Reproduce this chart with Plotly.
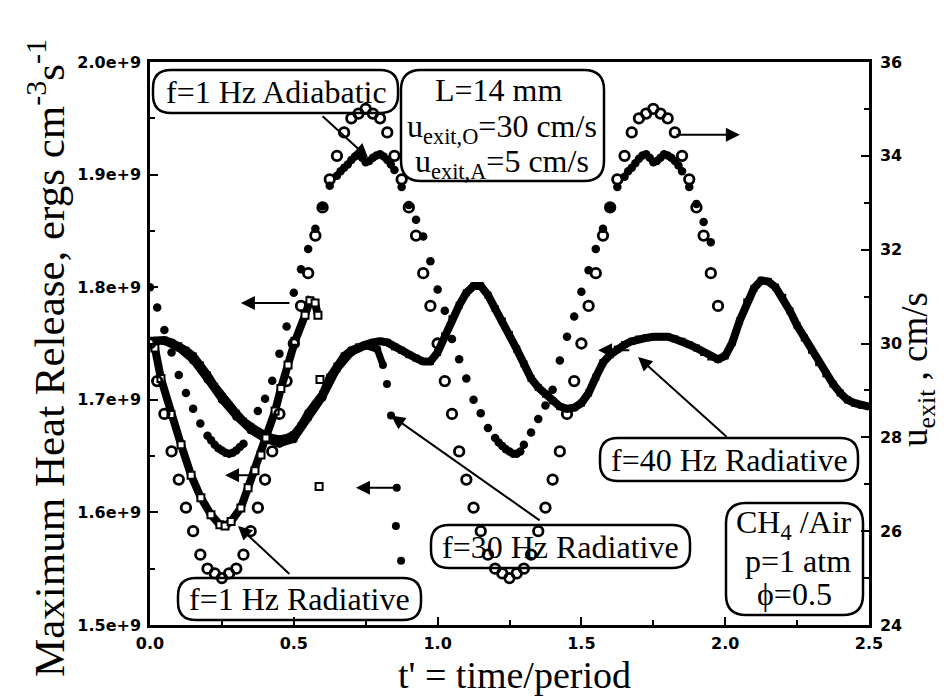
import plotly.graph_objects as go

# ---------------- data ----------------
# exit velocity (right axis, cm/s), open circles
t_u = [0.000, 0.025, 0.050, 0.075, 0.100, 0.125, 0.150, 0.175, 0.200, 0.225,
       0.250, 0.275, 0.300, 0.325, 0.350, 0.375, 0.400, 0.425, 0.450, 0.475,
       0.500, 0.525, 0.550, 0.575, 0.600, 0.625, 0.650, 0.675, 0.700, 0.725,
       0.750, 0.775, 0.800, 0.825, 0.850, 0.875, 0.900, 0.925, 0.950, 0.975,
       1.000, 1.025, 1.050, 1.075, 1.100, 1.125, 1.150, 1.175, 1.200, 1.225,
       1.250, 1.275, 1.300, 1.325, 1.350, 1.375, 1.400, 1.425, 1.450, 1.475,
       1.500, 1.525, 1.550, 1.575, 1.600, 1.625, 1.650, 1.675, 1.700, 1.725,
       1.750, 1.775, 1.800, 1.825, 1.850, 1.875, 1.900, 1.925, 1.950, 1.975]
u_exit = [30.0, 29.2, 28.5, 27.7, 27.1, 26.5, 26.0, 25.5, 25.2, 25.1,
          25.0, 25.1, 25.2, 25.5, 26.0, 26.5, 27.1, 27.7, 28.5, 29.2,
          30.0, 30.8, 31.5, 32.3, 32.9, 33.5, 34.0, 34.5, 34.8, 34.9,
          35.0, 34.9, 34.8, 34.5, 34.0, 33.5, 32.9, 32.3, 31.5, 30.8,
          30.0, 29.2, 28.5, 27.7, 27.1, 26.5, 26.0, 25.5, 25.2, 25.1,
          25.0, 25.1, 25.2, 25.5, 26.0, 26.5, 27.1, 27.7, 28.5, 29.2,
          30.0, 30.8, 31.5, 32.3, 32.9, 33.5, 34.0, 34.5, 34.8, 34.9,
          35.0, 34.9, 34.8, 34.5, 34.0, 33.5, 32.9, 32.3, 31.5, 30.8]

# f = 1 Hz adiabatic, max heat release (1e9 ergs/cm3/s), filled circles
t_ad = [0.000, 0.025, 0.050, 0.075, 0.100, 0.125, 0.150, 0.175, 0.200, 0.2125,
        0.225, 0.2375, 0.250, 0.2625, 0.275, 0.2875, 0.300, 0.3125, 0.325, 0.350,
        0.375, 0.400, 0.425, 0.450, 0.475, 0.500, 0.525, 0.550, 0.575, 0.600,
        0.625, 0.650, 0.6625, 0.675, 0.6875, 0.700, 0.7125, 0.725, 0.7375, 0.750,
        0.7625, 0.775, 0.7875, 0.800, 0.8125, 0.825, 0.8375, 0.850, 0.875, 0.900,
        0.925, 0.950, 0.975,
        1.000, 1.025, 1.050, 1.075, 1.100, 1.125, 1.150, 1.175, 1.200, 1.2125,
        1.225, 1.2375, 1.250, 1.2625, 1.275, 1.2875, 1.300, 1.325, 1.350, 1.375,
        1.400, 1.425, 1.450, 1.475, 1.500, 1.525, 1.550, 1.575, 1.600, 1.625,
        1.650, 1.6625, 1.675, 1.6875, 1.700, 1.7125, 1.725, 1.7375, 1.750, 1.7625,
        1.775, 1.7875, 1.800, 1.8125, 1.825, 1.8375, 1.850, 1.875, 1.900, 1.925,
        1.950]
q_ad = [1.800, 1.782, 1.762, 1.742, 1.722, 1.706, 1.692, 1.679, 1.668, 1.664,
        1.660, 1.657, 1.655, 1.653, 1.652, 1.653, 1.655, 1.658, 1.661, 1.675,
        1.690, 1.701, 1.717, 1.741, 1.765, 1.795, 1.816, 1.834, 1.852, 1.872,
        1.890, 1.899, 1.903, 1.906, 1.909, 1.913, 1.916, 1.918, 1.915, 1.911,
        1.912, 1.915, 1.917, 1.918, 1.916, 1.913, 1.909, 1.904, 1.889, 1.873,
        1.860, 1.845, 1.823,
        1.798, 1.779, 1.754, 1.736, 1.719, 1.700, 1.688, 1.675, 1.666, 1.662,
        1.659, 1.656, 1.654, 1.652, 1.652, 1.654, 1.660, 1.671, 1.683, 1.695,
        1.709, 1.735, 1.756, 1.774, 1.796, 1.815, 1.834, 1.852, 1.871, 1.889,
        1.898, 1.903, 1.906, 1.910, 1.914, 1.917, 1.918, 1.915, 1.911, 1.912,
        1.915, 1.918, 1.917, 1.915, 1.912, 1.908, 1.903, 1.889, 1.874, 1.858,
        1.840]

# f = 1 Hz radiative, open squares (extinguishes near t' = 0.59)
t_r1 = [0.000, 0.017, 0.038, 0.073, 0.108, 0.143, 0.177, 0.212, 0.243, 0.261,
        0.282, 0.316, 0.341, 0.365, 0.386, 0.403, 0.435, 0.455, 0.480, 0.504,
        0.539, 0.556, 0.574, 0.584, 0.591, 0.588]
q_r1 = [1.752, 1.746, 1.719, 1.687, 1.660, 1.633, 1.613, 1.598, 1.589, 1.588,
        1.592, 1.604, 1.622, 1.637, 1.651, 1.666, 1.690, 1.710, 1.731, 1.752,
        1.775, 1.788, 1.786, 1.775, 1.718, 1.623]
n_r1_line = 24

# f = 30 Hz radiative, filled circles (extinguishes near t' = 0.87)
t_r30 = [0.000, 0.050, 0.100, 0.150, 0.200, 0.250, 0.300, 0.350, 0.400, 0.450,
         0.500, 0.550, 0.600, 0.650, 0.700, 0.750, 0.790, 0.810, 0.824, 0.838,
         0.858, 0.855, 0.873]
q_r30 = [1.752, 1.752, 1.746, 1.735, 1.718, 1.700, 1.685, 1.673, 1.665, 1.661,
         1.665, 1.684, 1.702, 1.727, 1.742, 1.748, 1.745, 1.731, 1.714, 1.686,
         1.622, 1.588, 1.557]
n_r30_line = 18

# f = 40 Hz radiative, filled squares
t_r40 = [0.000, 0.025, 0.050, 0.075, 0.100, 0.125, 0.150, 0.175, 0.200, 0.225,
         0.250, 0.275, 0.300, 0.325, 0.350, 0.375, 0.400, 0.425, 0.450, 0.475,
         0.500, 0.525, 0.550, 0.575, 0.600, 0.625, 0.650, 0.675, 0.700, 0.725,
         0.750, 0.775, 0.800, 0.825, 0.850, 0.875, 0.900, 0.925, 0.950, 0.975,
         1.000, 1.025, 1.050, 1.075, 1.100, 1.125, 1.150, 1.175, 1.200, 1.225,
         1.250, 1.275, 1.300, 1.325, 1.350, 1.375, 1.400, 1.425, 1.450, 1.475,
         1.500, 1.525, 1.550, 1.575, 1.600, 1.625, 1.650, 1.675, 1.700, 1.725,
         1.750, 1.775, 1.800, 1.825, 1.850, 1.875, 1.900, 1.925, 1.950, 1.975,
         2.000, 2.025, 2.050, 2.075, 2.100, 2.125, 2.150, 2.175, 2.200, 2.225,
         2.250, 2.275, 2.300, 2.325, 2.350, 2.375, 2.400, 2.425, 2.450, 2.475,
         2.500]
q_r40 = [1.752, 1.753, 1.753, 1.751, 1.748, 1.744, 1.739, 1.731, 1.722, 1.712,
         1.703, 1.695, 1.688, 1.681, 1.676, 1.672, 1.669, 1.666, 1.665, 1.666,
         1.669, 1.677, 1.688, 1.696, 1.705, 1.720, 1.730, 1.739, 1.744, 1.747,
         1.749, 1.751, 1.752, 1.751, 1.747, 1.744, 1.740, 1.737, 1.734, 1.734,
         1.742, 1.757, 1.772, 1.784, 1.795, 1.801, 1.801, 1.793, 1.781, 1.770,
         1.758, 1.745, 1.732, 1.719, 1.711, 1.705, 1.699, 1.694, 1.692, 1.693,
         1.697, 1.706, 1.720, 1.733, 1.740, 1.745, 1.749, 1.752, 1.754, 1.755,
         1.756, 1.756, 1.756, 1.754, 1.752, 1.749, 1.746, 1.742, 1.738, 1.736,
         1.739, 1.751, 1.770, 1.787, 1.799, 1.806, 1.805, 1.800, 1.791, 1.779,
         1.766, 1.755, 1.744, 1.733, 1.723, 1.714, 1.706, 1.700, 1.697, 1.695,
         1.694]

# axis ticks
x_tickvals = [0.0, 0.5, 1.0, 1.5, 2.0, 2.5]
x_ticktext = ["0.0", "0.5", "1.0", "1.5", "2.0", "2.5"]
y_tickvals = [1.5, 1.6, 1.7, 1.8, 1.9, 2.0]
y_ticktext = ["1.5e+9", "1.6e+9", "1.7e+9", "1.8e+9", "1.9e+9", "2.0e+9"]
y2_tickvals = [24, 26, 28, 30, 32, 34, 36]
y2_ticktext = ["24", "26", "28", "30", "32", "34", "36"]

# ---------------- figure ----------------
W, H = 946, 697
L, R, T, B = 142, 861, 54, 617

SERIF = "Liberation Serif, Times New Roman, serif"

fig = go.Figure()

# 40 Hz radiative: dense filled squares -> thick black band
fig.add_trace(go.Scatter(x=t_r40, y=q_r40, mode="lines+markers",
                         line=dict(color="black", width=8),
                         marker=dict(symbol="square", size=7, color="black"),
                         hoverinfo="skip", showlegend=False))
# 30 Hz radiative
fig.add_trace(go.Scatter(x=t_r30[:n_r30_line], y=q_r30[:n_r30_line], mode="lines",
                         line=dict(color="black", width=7),
                         hoverinfo="skip", showlegend=False))
fig.add_trace(go.Scatter(x=t_r30, y=q_r30, mode="markers",
                         marker=dict(symbol="circle", size=8, color="black"),
                         hoverinfo="skip", showlegend=False))
# 1 Hz radiative: dense open squares -> black band with white centres
fig.add_trace(go.Scatter(x=t_r1[:n_r1_line], y=q_r1[:n_r1_line], mode="lines",
                         line=dict(color="black", width=8),
                         hoverinfo="skip", showlegend=False))
fig.add_trace(go.Scatter(x=t_r1, y=q_r1, mode="markers",
                         marker=dict(symbol="square", size=7, color="white",
                                     line=dict(color="black", width=2)),
                         hoverinfo="skip", showlegend=False))
# 1 Hz adiabatic: filled circles
fig.add_trace(go.Scatter(x=t_ad, y=q_ad, mode="markers",
                         marker=dict(symbol="circle", size=8.5, color="black"),
                         hoverinfo="skip", showlegend=False))
# exit velocity: open circles on right axis
fig.add_trace(go.Scatter(x=t_u, y=u_exit, mode="markers", yaxis="y2",
                         marker=dict(symbol="circle-open", size=9.5, color="black",
                                     line=dict(color="black", width=2.8)),
                         hoverinfo="skip", showlegend=False))

tickfont = dict(family="DejaVu Sans", size=16, color="black", weight="bold")
axis_common = dict(showline=True, linecolor="black", linewidth=2.5,
                   ticks="inside", ticklen=8, tickwidth=2, tickcolor="black",
                   showgrid=False, zeroline=False, tickfont=tickfont)


def bold(labels):
    return ["<b>" + s + "</b>" for s in labels]


fig.update_layout(
    width=W, height=H,
    margin=dict(l=L, r=W - R, t=T, b=H - B, pad=0),
    paper_bgcolor="white", plot_bgcolor="white",
    xaxis=dict(range=[0, 2.5], tickvals=x_tickvals, ticktext=bold(x_ticktext),
               mirror=True, ticklabelstandoff=2,
               minor=dict(ticks="inside", ticklen=5, tickwidth=2,
                          tickvals=[0.25, 0.75, 1.25, 1.75, 2.25]),
               **axis_common),
    yaxis=dict(range=[1.5, 2.0], tickvals=y_tickvals, ticktext=bold(y_ticktext),
               ticklabelstandoff=3,
               minor=dict(ticks="inside", ticklen=5, tickwidth=2,
                          tickvals=[1.55, 1.65, 1.75, 1.85, 1.95]),
               **axis_common),
    yaxis2=dict(range=[24, 36], tickvals=y2_tickvals, ticktext=bold(y2_ticktext),
                overlaying="y", side="right", ticklabelstandoff=5,
                minor=dict(ticks="inside", ticklen=5, tickwidth=2,
                           tickvals=[25, 27, 29, 31, 33, 35]),
                **axis_common),
)


def PX(x):
    return (x - L) / (R - L)


def PY(y):
    return (B - y) / (B - T)


def rbox(x0, y0, x1, y1, r):
    p = (f"M {PX(x0 + r)},{PY(y0)} L {PX(x1 - r)},{PY(y0)} "
         f"Q {PX(x1)},{PY(y0)} {PX(x1)},{PY(y0 + r)} "
         f"L {PX(x1)},{PY(y1 - r)} Q {PX(x1)},{PY(y1)} {PX(x1 - r)},{PY(y1)} "
         f"L {PX(x0 + r)},{PY(y1)} Q {PX(x0)},{PY(y1)} {PX(x0)},{PY(y1 - r)} "
         f"L {PX(x0)},{PY(y0 + r)} Q {PX(x0)},{PY(y0)} {PX(x0 + r)},{PY(y0)} Z")
    return dict(type="path", path=p, xref="paper", yref="paper",
                line=dict(color="black", width=2.5), fillcolor="rgba(0,0,0,0)",
                layer="below")


boxes = [(145, 62, 390, 105, 18), (393, 62, 596, 173, 20),
         (423, 517, 682, 560, 18), (170, 570, 413, 612, 18),
         (592, 430, 850, 473, 18), (718, 495, 855, 607, 20)]
fig.update_layout(shapes=[rbox(*b) for b in boxes])


def label(text, x, y, size=32, angle=0):
    fig.add_annotation(text=text, x=PX(x), y=PY(y), xref="paper", yref="paper",
                       showarrow=False, xanchor="center", yanchor="middle",
                       textangle=angle, borderpad=0,
                       font=dict(family=SERIF, size=size, color="black"))


label("f=1 Hz Adiabatic", 268, 84)
label("L=14 mm", 490, 82)
label("u<sub>exit,O</sub>=30 cm/s", 494, 121)
label("u<sub>exit,A</sub>=5 cm/s", 494, 155)
label("f=30 Hz Radiative", 552, 539)
label("f=1 Hz Radiative", 291, 591)
label("f=40 Hz Radiative", 721, 452)
label("CH<sub>4</sub> /Air", 786, 516, size=32)
label("p=1 atm", 790, 553, size=32)
label("\u03d5=0.5", 786, 586, size=32)

# axis titles
label("t' = time/period", 507, 667, size=38)
label("Maximum Heat Release, ergs cm<sup>-3</sup>s<sup>-1</sup>", 38, 350, size=43, angle=-90)
label("u<sub>exit</sub> , cm/s", 910, 362, size=37, angle=-90)


def arrow(x_head, y_head, x_tail, y_tail, yref="y"):
    fig.add_annotation(x=x_head, y=y_head, ax=x_tail, ay=y_tail,
                       xref="x", yref=yref, axref="x", ayref=yref,
                       text="", showarrow=True, arrowhead=2, arrowsize=1.4,
                       arrowwidth=2, arrowcolor="black", standoff=0)


# pointer arrows from the labels
arrow(0.758, 1.915, 0.595, 1.953)
arrow(0.838, 1.686, 1.360, 1.592)
arrow(0.306, 1.588, 0.490, 1.544)
arrow(1.697, 1.738, 2.010, 1.666)
# axis indicator arrows
arrow(0.316, 1.786, 0.490, 1.786)
arrow(0.261, 1.633, 0.376, 1.633)
arrow(0.716, 1.622, 0.859, 1.622)
arrow(1.558, 1.744, 1.672, 1.744)
arrow(2.051, 34.45, 1.825, 34.45, yref="y2")

fig.write_html("out.html")
